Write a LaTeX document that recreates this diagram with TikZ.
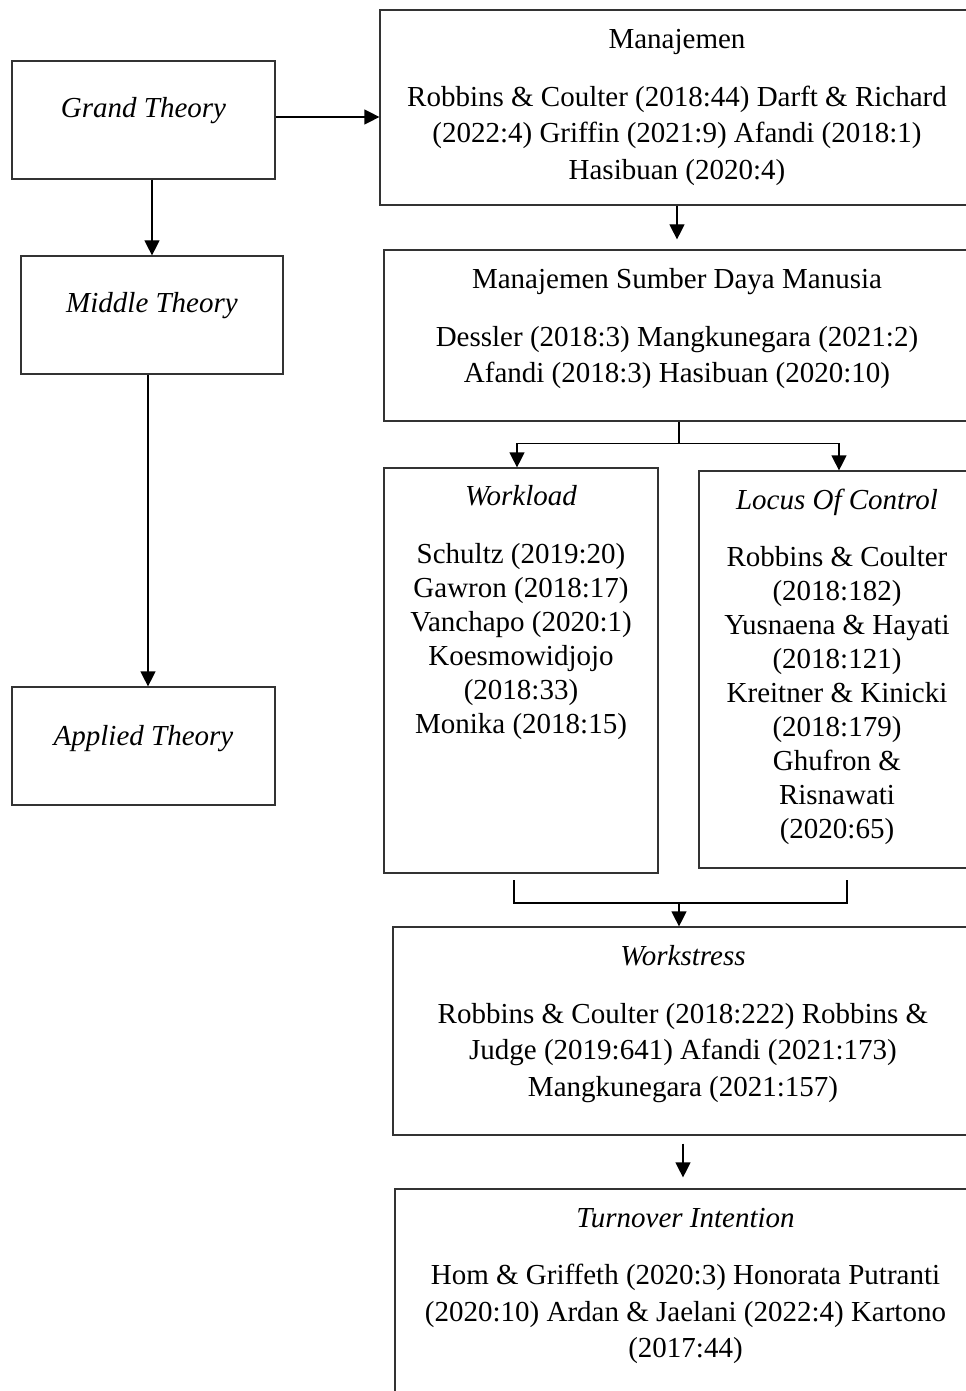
\documentclass[tikz,border=0pt]{standalone}
\usepackage{fontspec}
\setmainfont{Liberation Serif}
\usetikzlibrary{positioning,arrows.meta,fit,calc}

\begin{document}
\begin{tikzpicture}[x=0.5pt, y=-0.5pt,
  box/.style={draw=black!80, line width=0.6pt, inner sep=0pt},
  txt/.style={inner sep=0pt, align=flush center, font=\fontsize{14.5pt}{18.25pt}\selectfont},
  txtn/.style={txt, font=\fontsize{14.5pt}{17pt}\selectfont},
  arr/.style={-{Triangle[length=7.5pt, width=7.5pt]}, line width=0.6pt},
  link/.style={line width=0.6pt}]
% Page frame
\useasboundingbox (0,0) rectangle (965,1391);
% Theory boxes (left column)
\node[box, fit={(12,61) (275,179)}] (grand) {};
\node[box, fit={(21,256) (283,374)}] (middle) {};
\node[box, fit={(12,687) (275,805)}] (applied) {};
\node[txt, text width=125pt, below=18.5pt of grand.north] (grandtxt) {\textit{Grand Theory}};
\node[txt, text width=125pt, below=18.5pt of middle.north] (middletxt) {\textit{Middle Theory}};
\node[txt, text width=125pt, below=19.5pt of applied.north] (appliedtxt) {\textit{Applied Theory}};
% Concept boxes (right column)
\node[box, fit={(380,10) (974,205)}] (mnj) {};
\node[box, fit={(384,250) (970,421)}] (msdm) {};
\node[box, fit={(384,468) (658,873)}] (wl) {};
\node[box, fit={(699,471) (975,868)}] (loc) {};
\node[box, fit={(393,927) (973,1135)}] (ws) {};
\node[box, fit={(395,1189) (976,1400)}] (ti) {};
\node[txt, text width=290pt, below=10pt of mnj.north] (mnjtxt) {Manajemen\\[10.5pt]
  Robbins \& Coulter (2018:44) Darft \& Richard\\
  (2022:4) Griffin (2021:9) Afandi (2018:1)\\
  Hasibuan (2020:4)};
\node[txt, text width=285pt, below=9.5pt of msdm.north] (msdmtxt) {Manajemen Sumber Daya Manusia\\[10.5pt]
  Dessler (2018:3) Mangkunegara (2021:2)\\
  Afandi (2018:3) Hasibuan (2020:10)};
\node[txtn, text width=132pt, below=9pt of wl.north] (wltxt) {\textit{Workload}\\[11.75pt]
  Schultz (2019:20)\\
  Gawron (2018:17)\\
  Vanchapo (2020:1)\\
  Koesmowidjojo\\
  (2018:33)\\
  Monika (2018:15)};
\node[txtn, text width=134pt, below=9pt of loc.north] (loctxt) {\textit{Locus Of Control}\\[11.75pt]
  Robbins \& Coulter\\
  (2018:182)\\
  Yusnaena \& Hayati\\
  (2018:121)\\
  Kreitner \& Kinicki\\
  (2018:179)\\
  Ghufron \&\\
  Risnawati\\
  (2020:65)};
\node[txt, text width=285pt, below=9.5pt of ws.north] (wstxt) {\textit{Workstress}\\[10.5pt]
  Robbins \& Coulter (2018:222) Robbins \&\\
  Judge (2019:641) Afandi (2021:173)\\
  Mangkunegara (2021:157)};
\node[txt, text width=285pt, below=9.5pt of ti.north] (titxt) {\textit{Turnover Intention}\\[10.5pt]
  Hom \& Griffeth (2020:3) Honorata Putranti\\
  (2020:10) Ardan \& Jaelani (2022:4) Kartono\\
  (2017:44)};
% Arrows
\draw[arr] ([yshift=1.5pt]grand.east) -- ([yshift=1.5pt]grand.east -| mnj.west);
\draw[arr] (middle.north |- grand.south) -- (middle.north);
\draw[arr] ([xshift=-2pt]middle.south) -- ([xshift=-2pt]middle.south |- applied.north);
\draw[arr, shorten >=5pt] (mnj.south) -- (mnj.south |- msdm.north);
% split to the two variables
\coordinate (split) at ($(msdm.south)+(2,22)$);
\draw[link] ([xshift=1pt]msdm.south) -- (split);
\draw[arr] (split) -| ([xshift=-2pt]wl.north);
\draw[arr] (split) -| ([xshift=1pt]loc.north);
% join into workstress
\coordinate (wlb) at (514,880);
\coordinate (locb) at (847,880);
\coordinate (join) at (679,903);
\draw[link] (wlb) |- (join) -| (locb);
\draw[arr] (join) -- (join |- ws.north);
\draw[arr, shorten <=4pt, shorten >=5.5pt] (ws.south) -- (ws.south |- ti.north);
\end{tikzpicture}
\end{document}
